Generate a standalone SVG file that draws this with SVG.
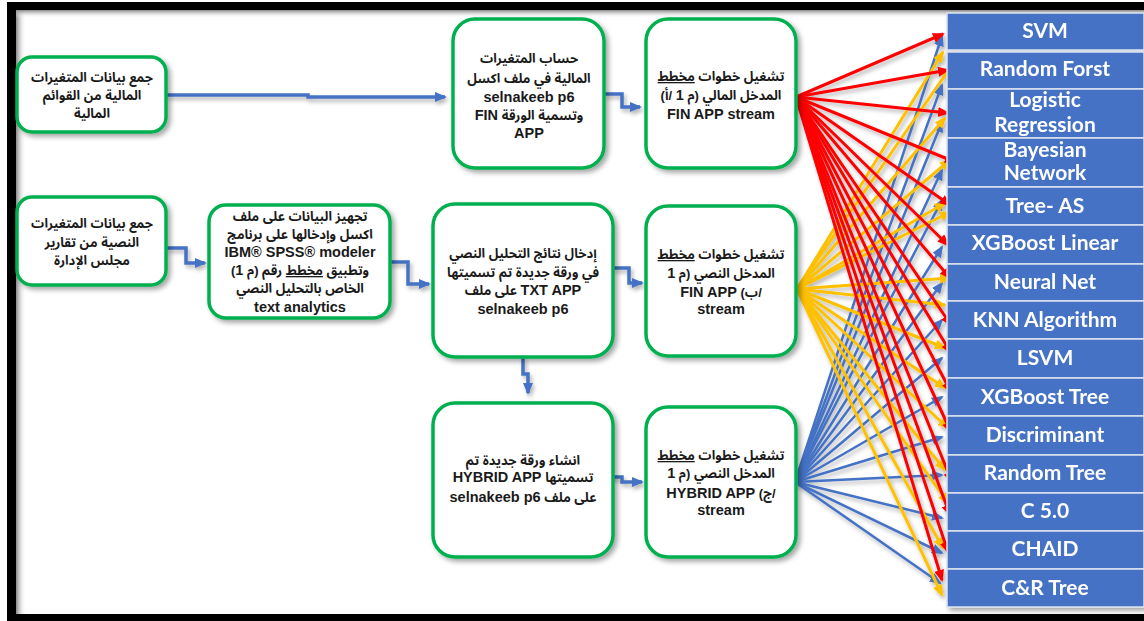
<svg xmlns="http://www.w3.org/2000/svg" width="1144" height="621" viewBox="0 0 1144 621">
<style>
.box{fill:#fff;stroke:#00B050;stroke-width:3.5}
.t{font-family:"Liberation Sans","Noto Sans Arabic","DejaVu Sans Condensed","DejaVu Sans",sans-serif;font-weight:bold;font-size:13px;text-anchor:middle;fill:#1a1a1a;direction:rtl;unicode-bidi:embed}
.l{font-size:14.5px}
.u{text-decoration:underline}
.alg{fill:#4472C4;stroke:#DCE3F0;stroke-width:1.5}
.a{font-family:Lato,"Open Sans",sans-serif;font-weight:bold;font-size:21px;fill:#fff;text-anchor:middle}
.step{fill:none;stroke:#4472C4;stroke-width:3.5;marker-end:url(#mb)}
.r line{stroke:#FF0000;stroke-width:3;marker-end:url(#mr)}
.o line{stroke:#FFC000;stroke-width:3;marker-end:url(#mo)}
.b line{stroke:#4472C4;stroke-width:2.5;marker-end:url(#mb)}
</style>
<defs>
<filter id="sh" x="-20%" y="-20%" width="140%" height="140%"><feDropShadow dx="3" dy="3" stdDeviation="2.5" flood-color="#000" flood-opacity="0.35"/></filter>
<filter id="lsh" x="-10%" y="-10%" width="120%" height="120%"><feDropShadow dx="2" dy="3" stdDeviation="2" flood-color="#000" flood-opacity="0.3"/></filter>
<marker id="mr" viewBox="0 0 12 10" markerWidth="12" markerHeight="10" refX="10" refY="5" orient="auto" markerUnits="userSpaceOnUse"><path d="M0,0 L12,5 L0,10 z" fill="#FF0000"/></marker>
<marker id="mo" viewBox="0 0 12 10" markerWidth="12" markerHeight="10" refX="10" refY="5" orient="auto" markerUnits="userSpaceOnUse"><path d="M0,0 L12,5 L0,10 z" fill="#FFC000"/></marker>
<marker id="mb" viewBox="0 0 12 10" markerWidth="12" markerHeight="10" refX="10" refY="5" orient="auto" markerUnits="userSpaceOnUse"><path d="M0,0 L12,5 L0,10 z" fill="#4472C4"/></marker>
<linearGradient id="gl" x1="0" y1="0" x2="1" y2="0"><stop offset="0" stop-color="#888"/><stop offset="1" stop-color="#fff" stop-opacity="0"/></linearGradient>
<linearGradient id="gt" x1="0" y1="0" x2="0" y2="1"><stop offset="0" stop-color="#888"/><stop offset="1" stop-color="#fff" stop-opacity="0"/></linearGradient>
</defs>
<rect width="1144" height="621" fill="#fff"/>
<rect x="7" y="2" width="1137" height="619" fill="#000"/>
<rect x="16" y="10" width="1128" height="604" fill="#fff"/>
<rect x="16" y="10" width="10" height="604" fill="url(#gl)"/>
<rect x="16" y="10" width="1128" height="8" fill="url(#gt)"/>

<g id="connectors" filter="url(#lsh)">
<polyline class="step" points="166,95 308,95 308,97 445,97"/>
<polyline class="step" points="604,94 622,94 622,107 640,107"/>
<polyline class="step" points="166,248 186,248 186,263 205,263"/>
<polyline class="step" points="390,262 408,262 408,284 429,284"/>
<polyline class="step" points="613,268 629,268 629,283 642,283"/>
<polyline class="step" points="523,357 523,374 528,374 528,393"/>
<polyline class="step" points="603,477 622,477 622,482 642,482"/>
<g class="b">
<line x1="795" y1="482" x2="942" y2="36"/>
<line x1="795" y1="482" x2="942" y2="85"/>
<line x1="795" y1="482" x2="942" y2="122"/>
<line x1="795" y1="482" x2="942" y2="170"/>
<line x1="795" y1="482" x2="942" y2="200"/>
<line x1="795" y1="482" x2="942" y2="247"/>
<line x1="795" y1="482" x2="942" y2="283"/>
<line x1="795" y1="482" x2="942" y2="320"/>
<line x1="795" y1="482" x2="942" y2="358"/>
<line x1="795" y1="482" x2="942" y2="397"/>
<line x1="795" y1="482" x2="942" y2="437"/>
<line x1="795" y1="482" x2="942" y2="475"/>
<line x1="795" y1="482" x2="942" y2="518"/>
<line x1="795" y1="482" x2="942" y2="553"/>
<line x1="795" y1="482" x2="940" y2="583"/>
</g>
<g class="o">
<line x1="797" y1="289" x2="943" y2="52"/>
<line x1="797" y1="289" x2="950" y2="68"/>
<line x1="797" y1="289" x2="945" y2="118"/>
<line x1="797" y1="289" x2="950" y2="160"/>
<line x1="797" y1="289" x2="945" y2="203"/>
<line x1="797" y1="289" x2="950" y2="212"/>
<line x1="797" y1="289" x2="950" y2="278"/>
<line x1="797" y1="289" x2="945" y2="305"/>
<line x1="797" y1="289" x2="945" y2="348"/>
<line x1="797" y1="289" x2="945" y2="388"/>
<line x1="797" y1="289" x2="948" y2="428"/>
<line x1="797" y1="289" x2="945" y2="470"/>
<line x1="797" y1="289" x2="948" y2="503"/>
<line x1="797" y1="289" x2="943" y2="548"/>
<line x1="797" y1="289" x2="942" y2="595"/>
</g>
<g class="r">
<line x1="796" y1="97" x2="943" y2="34"/>
<line x1="796" y1="97" x2="948" y2="70"/>
<line x1="796" y1="97" x2="948" y2="113"/>
<line x1="796" y1="97" x2="955" y2="162"/>
<line x1="796" y1="97" x2="950" y2="205"/>
<line x1="796" y1="97" x2="948" y2="245"/>
<line x1="796" y1="97" x2="950" y2="278"/>
<line x1="796" y1="97" x2="951" y2="325"/>
<line x1="796" y1="97" x2="951" y2="353"/>
<line x1="796" y1="97" x2="951" y2="392"/>
<line x1="796" y1="97" x2="951" y2="432"/>
<line x1="796" y1="97" x2="952" y2="482"/>
<line x1="796" y1="97" x2="950" y2="515"/>
<line x1="796" y1="97" x2="948" y2="552"/>
<line x1="796" y1="97" x2="942" y2="580"/>
</g>
</g>

<g id="nA"><rect class="box" x="17" y="57" width="149" height="75" rx="15" filter="url(#sh)"/>
<text class="t"><tspan x="92" y="82">جمع بيانات المتغيرات</tspan><tspan x="92" y="100">المالية من القوائم</tspan><tspan x="92" y="118">المالية</tspan></text></g>
<g id="nB"><rect class="box" x="17" y="197" width="149" height="88" rx="15" filter="url(#sh)"/>
<text class="t"><tspan x="92" y="228">جمع بيانات المتغيرات</tspan><tspan x="92" y="247">النصية من تقارير</tspan><tspan x="92" y="265">مجلس الإدارة</tspan></text></g>
<g id="nC"><rect class="box" x="209" y="205" width="181" height="113" rx="17" filter="url(#sh)"/>
<text class="t"><tspan x="300" y="221">تجهيز البيانات على ملف</tspan><tspan x="300" y="239">اكسل وإدخالها على برنامج</tspan><tspan class="l" x="300" y="257">IBM® SPSS® modeler</tspan><tspan x="300" y="275">وتطبيق <tspan class="u">مخطط</tspan> رقم (م <tspan class="l">1</tspan>)</tspan><tspan x="300" y="293">الخاص بالتحليل النصي</tspan><tspan class="l" x="300" y="312">text analytics</tspan></text></g>
<g id="nD"><rect class="box" x="453" y="19" width="151" height="149" rx="22" filter="url(#sh)"/>
<text class="t"><tspan x="529" y="63">حساب المتغيرات</tspan><tspan x="529" y="83">المالية في ملف اكسل</tspan><tspan class="l" x="529" y="102">selnakeeb p6</tspan><tspan x="529" y="120">وتسمية الورقة  <tspan class="l">FIN</tspan></tspan><tspan class="l" x="529" y="138">APP</tspan></text></g>
<g id="nE"><rect class="box" x="646" y="19" width="150" height="149" rx="22" filter="url(#sh)"/>
<text class="t"><tspan x="721" y="81">تشغيل خطوات <tspan class="u">مخطط</tspan></tspan><tspan x="721" y="100">المدخل المالي (م <tspan class="l">1</tspan> /أ)</tspan><tspan class="l" x="721" y="119">FIN APP stream</tspan></text></g>
<g id="nF"><rect class="box" x="433" y="204" width="180" height="153" rx="22" filter="url(#sh)"/>
<text class="t"><tspan x="523" y="258">إدخال نتائج التحليل النصي</tspan><tspan x="523" y="277">في ورقة جديدة تم تسميتها</tspan><tspan x="523" y="295"><tspan class="l">TXT APP</tspan> على ملف</tspan><tspan class="l" x="523" y="314">selnakeeb p6</tspan></text></g>
<g id="nG"><rect class="box" x="646" y="206" width="150" height="150" rx="22" filter="url(#sh)"/>
<text class="t"><tspan x="721" y="259">تشغيل خطوات <tspan class="u">مخطط</tspan></tspan><tspan x="721" y="278">المدخل  النصي (م <tspan class="l">1</tspan></tspan><tspan x="721" y="297">/ب)  <tspan class="l">FIN APP</tspan></tspan><tspan class="l" x="721" y="314">stream</tspan></text></g>
<g id="nH"><rect class="box" x="433" y="403" width="180" height="154" rx="22" filter="url(#sh)"/>
<text class="t"><tspan x="523" y="465">انشاء ورقة جديدة تم</tspan><tspan x="523" y="482">تسميتها <tspan class="l">HYBRID  APP</tspan></tspan><tspan x="523" y="502">على ملف <tspan class="l">selnakeeb p6</tspan></tspan></text></g>
<g id="nI"><rect class="box" x="646" y="407" width="150" height="150" rx="22" filter="url(#sh)"/>
<text class="t"><tspan x="721" y="460">تشغيل خطوات <tspan class="u">مخطط</tspan></tspan><tspan x="721" y="478">المدخل  النصي (م <tspan class="l">1</tspan></tspan><tspan x="721" y="498">/ج)  <tspan class="l">HYBRID APP</tspan></tspan><tspan class="l" x="721" y="515">stream</tspan></text></g>

<g id="algorithms" filter="url(#sh)">
<g id="svm"><rect class="alg" x="947" y="13" width="197" height="37"/><text class="a" x="1045" y="38">SVM</text></g>
<g id="rf"><rect class="alg" x="947" y="52" width="197" height="37"/><text class="a" x="1045" y="76">Random Forst</text></g>
<g id="lr"><rect class="alg" x="947" y="89" width="197" height="49"/><text class="a"><tspan x="1045" y="107">Logistic</tspan><tspan x="1045" y="132">Regression</tspan></text></g>
<g id="bn"><rect class="alg" x="947" y="138" width="197" height="49"/><text class="a"><tspan x="1045" y="157">Bayesian</tspan><tspan x="1045" y="180">Network</tspan></text></g>
<g id="tas"><rect class="alg" x="947" y="187" width="197" height="38"/><text class="a" x="1045" y="213">Tree- AS</text></g>
<g id="xgl"><rect class="alg" x="947" y="225" width="197" height="39"/><text class="a" x="1045" y="250">XGBoost Linear</text></g>
<g id="nn"><rect class="alg" x="947" y="264" width="197" height="37"/><text class="a" x="1045" y="289">Neural Net</text></g>
<g id="knn"><rect class="alg" x="947" y="301" width="197" height="38"/><text class="a" x="1045" y="327">KNN Algorithm</text></g>
<g id="lsvm"><rect class="alg" x="947" y="339" width="197" height="39"/><text class="a" x="1045" y="365">LSVM</text></g>
<g id="xgt"><rect class="alg" x="947" y="378" width="197" height="38"/><text class="a" x="1045" y="404">XGBoost Tree</text></g>
<g id="disc"><rect class="alg" x="947" y="416" width="197" height="39"/><text class="a" x="1045" y="442">Discriminant</text></g>
<g id="rt"><rect class="alg" x="947" y="455" width="197" height="38"/><text class="a" x="1045" y="480">Random Tree</text></g>
<g id="c50"><rect class="alg" x="947" y="493" width="197" height="38"/><text class="a" x="1045" y="518">C 5.0</text></g>
<g id="chaid"><rect class="alg" x="947" y="531" width="197" height="38"/><text class="a" x="1045" y="556">CHAID</text></g>
<g id="cr"><rect class="alg" x="947" y="569" width="197" height="38"/><text class="a" x="1045" y="595">C&amp;R Tree</text></g>
</g>
</svg>
